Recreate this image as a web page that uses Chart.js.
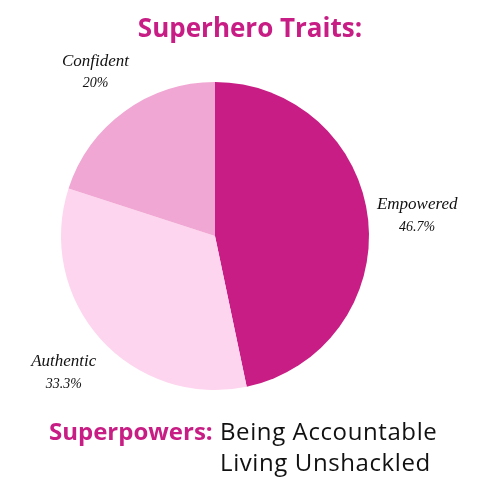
<!DOCTYPE html>
<html><head><meta charset="utf-8">
<script src="https://cdn.jsdelivr.net/npm/chart.js@4/dist/chart.umd.min.js"></script>
<style>
html,body{margin:0;padding:0;background:#fff;}
#wrap{position:relative;width:500px;height:500px;}
#title{position:absolute;left:0;top:9px;width:500px;text-align:center;font-family:"Open Sans",sans-serif;font-weight:700;font-size:26px;color:#C71D84;}
.ft{position:absolute;font-family:"Open Sans",sans-serif;font-size:24px;color:#111;line-height:30px;white-space:nowrap;}
#k{left:49px;top:416px;color:#C71D84;font-weight:700;}
#l1{left:220px;top:416px;letter-spacing:0.6px;}
#l2{left:220px;top:447px;letter-spacing:0.6px;}
</style></head>
<body><div id="wrap">
<canvas id="c" width="500" height="500"></canvas>
<div id="title">Superhero Traits:</div>
<div class="ft" id="k">Superpowers:</div>
<div class="ft" id="l1">Being Accountable</div>
<div class="ft" id="l2">Living Unshackled</div>
</div>
<script>
const categories = ["Empowered", "Authentic", "Confident"];
const values = [46.7, 33.3, 20];
const pctLabels = ["46.7%", "33.3%", "20%"];
const colors = ["#C71D84", "#FED5EE", "#F1A7D3"];

const labelPlugin = {
  id: 'sliceLabels',
  afterDatasetsDraw(chart) {
    const ctx = chart.ctx;
    const meta = chart.getDatasetMeta(0);
    meta.data.forEach((arc, i) => {
      const p = arc.getProps(['x','y','startAngle','endAngle','outerRadius'], true);
      const mid = (p.startAngle + p.endAngle) / 2;
      const r = p.outerRadius * 1.32;
      const x = p.x + Math.cos(mid) * r;
      const y = p.y + Math.sin(mid) * r;
      ctx.save();
      ctx.fillStyle = '#111';
      ctx.textAlign = 'center';
      ctx.textBaseline = 'middle';
      ctx.font = 'italic 17px "Liberation Serif", serif';
      ctx.fillText(categories[i], x, y - 10);
      ctx.font = 'italic 14px "Liberation Serif", serif';
      ctx.fillText(pctLabels[i], x, y + 12);
      ctx.restore();
    });
  }
};

new Chart(document.getElementById('c'), {
  type: 'pie',
  data: { labels: categories, datasets: [{ data: values, backgroundColor: colors, borderWidth: 0 }] },
  options: {
    responsive: false,
    animation: false,
    layout: { padding: { top: 82, bottom: 110, left: 61, right: 131 } },
    plugins: { legend: { display: false }, tooltip: { enabled: false }, title: { display: false } }
  },
  plugins: [labelPlugin]
});
</script>
</body></html>
